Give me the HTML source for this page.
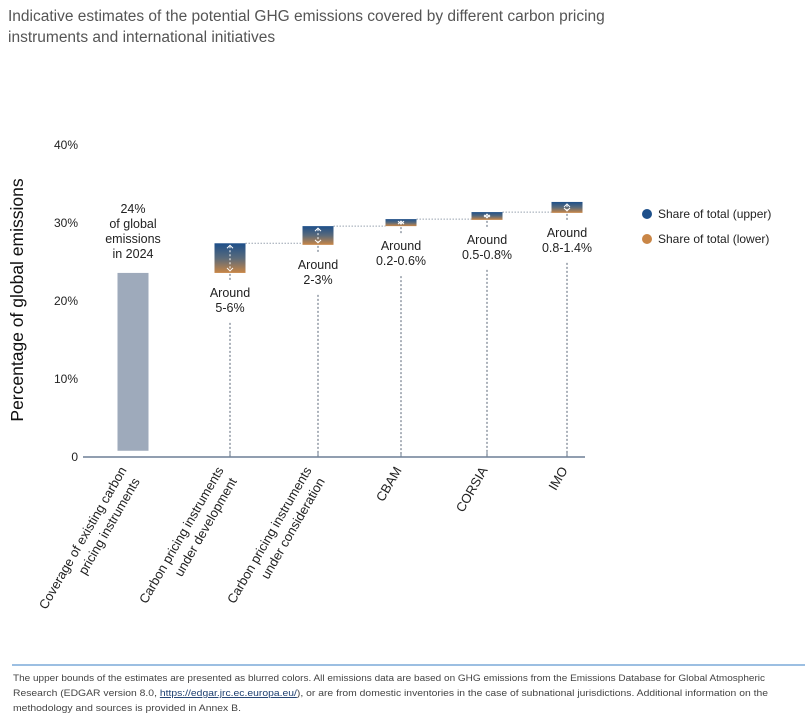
<!DOCTYPE html>
<html><head><meta charset="utf-8"><style>
body{margin:0;background:#fff;width:810px;height:715px;overflow:hidden;font-family:"Liberation Sans",sans-serif}
</style></head><body>
<svg id="chart" width="810" height="715" xmlns="http://www.w3.org/2000/svg" style="font-family:'Liberation Sans',sans-serif">
<defs>
<linearGradient id="grad" x1="0" y1="0" x2="0" y2="1">
<stop offset="0" stop-color="#1d4f8a"/><stop offset="0.5" stop-color="#5a6a7a"/><stop offset="1" stop-color="#c98646"/>
</linearGradient>
</defs>
<text x="8" y="21" font-size="15.5" fill="#555">Indicative estimates of the potential GHG emissions covered by different carbon pricing</text>
<text x="8" y="42" font-size="15.5" fill="#555">instruments and international initiatives</text>
<text transform="translate(23,300) rotate(-90)" text-anchor="middle" font-size="17.5" fill="#111">Percentage of global emissions</text>
<g id="yticks"></g><g id="marks"></g><g id="xlabels"></g>
<g>
<circle cx="647" cy="214" r="5" fill="#1d4f8a"/>
<text x="658" y="218" font-size="12" fill="#222">Share of total (upper)</text>
<circle cx="647" cy="239" r="5" fill="#c98646"/>
<text x="658" y="243" font-size="12" fill="#222">Share of total (lower)</text>
</g>
<line x1="12" y1="665" x2="805" y2="665" stroke="#3a7fc4" stroke-width="1"/>
<g font-size="9.5" fill="#444">
<text x="13" y="681" textLength="752" lengthAdjust="spacingAndGlyphs">The upper bounds of the estimates are presented as blurred colors. All emissions data are based on GHG emissions from the Emissions Database for Global Atmospheric</text>
<text x="13" y="696" textLength="755" lengthAdjust="spacingAndGlyphs">Research (EDGAR version 8.0, <tspan fill="#1d3f70" text-decoration="underline">https://edgar.jrc.ec.europa.eu/</tspan>), or are from domestic inventories in the case of subnational jurisdictions. Additional information on the</text>
<text x="13" y="711" textLength="228" lengthAdjust="spacingAndGlyphs">methodology and sources is provided in Annex B.</text>
</g>
</svg>
<script>
const categories=["Coverage of existing carbon|pricing instruments","Carbon pricing instruments|under development","Carbon pricing instruments|under consideration","CBAM","CORSIA","IMO"];
const baseValue=[0.8,23.6,27.2,29.6,30.4,31.3];
const topValue=[23.6,27.4,29.6,30.5,31.4,32.7];
const valueLabels=["24%|of global|emissions|in 2024","Around|5-6%","Around|2-3%","Around|0.2-0.6%","Around|0.5-0.8%","Around|0.8-1.4%"];
const yTicks=[0,10,20,30,40];
const yTickLabels=["0","10%","20%","30%","40%"];
const NS="http://www.w3.org/2000/svg";
const y=v=>457-v*7.8;
const xs=[133,230,318,401,487,567];
const x=i=>xs[i];
const bw=31;
function mk(t,a,p){const e=document.createElementNS(NS,t);for(const k in a)e.setAttribute(k,a[k]);p.appendChild(e);return e;}
const yt=document.getElementById('yticks'),m=document.getElementById('marks'),xl=document.getElementById('xlabels');
yTicks.forEach((v,i)=>{const t=mk('text',{x:78,y:y(v)+4,'text-anchor':'end','font-size':12,fill:'#222'},yt);t.textContent=yTickLabels[i];

});
const ax=mk('line',{x1:83,y1:457,x2:585,y2:457,stroke:'#6d7f95','stroke-width':1.5},m);


categories.forEach((c,i)=>{
 const cx=x(i);
 if(i>0){const tk=mk('line',{x1:cx,y1:452,x2:cx,y2:457,stroke:'#6d7f95'},m);
 
 }
 const lines=valueLabels[i].split('|');
 if(i===0){
  const r=mk('rect',{x:cx-bw/2,y:y(topValue[i]),width:bw,height:y(baseValue[i])-y(topValue[i]),fill:'#9eaabb'},m);
  
  
  const ty=y(topValue[i])-60;
  lines.forEach((l,j)=>{const t=mk('text',{x:cx,y:ty+j*15,'text-anchor':'middle','font-size':12.5,fill:'#222'},m);t.textContent=l;
  
  });
 } else {
  const yt0=y(topValue[i]),yb=y(baseValue[i]);
  const r=mk('rect',{x:cx-bw/2,y:yt0,width:bw,height:yb-yt0,fill:'url(#grad)'},m);
  
  
  const ar=mk('line',{x1:cx,y1:yt0+3,x2:cx,y2:yb-3,stroke:'#fff','stroke-dasharray':'2,2','stroke-width':1},m);
  
  
  const ah=mk('path',{d:`M${cx-3},${yt0+5}L${cx},${yt0+2}L${cx+3},${yt0+5}M${cx-3},${yb-5}L${cx},${yb-2}L${cx+3},${yb-5}`,stroke:'#fff',fill:'none','stroke-width':1},m);
  
  
  if(i>1){
   const pcx=x(i-1);
   const cn=mk('line',{x1:pcx+bw/2,y1:y(topValue[i-1]),x2:cx-bw/2,y2:y(topValue[i-1]),stroke:'#99a3b0','stroke-dasharray':'1.5,1.5','stroke-width':1},m);
   
   
  }
  const ly=yb+24;
  lines.forEach((l,j)=>{const t=mk('text',{x:cx,y:ly+j*15,'text-anchor':'middle','font-size':12.5,fill:'#222'},m);t.textContent=l;
  
  });
  const d1=mk('line',{x1:cx,y1:yb+1,x2:cx,y2:yb+9,stroke:'#5a6677','stroke-dasharray':'2,2'},m);
  
  
  const d2=mk('line',{x1:cx,y1:ly+lines.length*15-4,x2:cx,y2:456,stroke:'#5a6677','stroke-dasharray':'2,2'},m);
  
  
 }
 const parts=c.split('|');
 const dx=parts.length>1?-6:1;
 const g=mk('g',{transform:`translate(${cx+dx},470) rotate(-60)`},xl);
 
 
 parts.forEach((p,j)=>{const t=mk('text',{x:j*-3,y:j*17,'text-anchor':'end','font-size':13,fill:'#222'},g);t.textContent=p;});
});
</script>
</body></html>
